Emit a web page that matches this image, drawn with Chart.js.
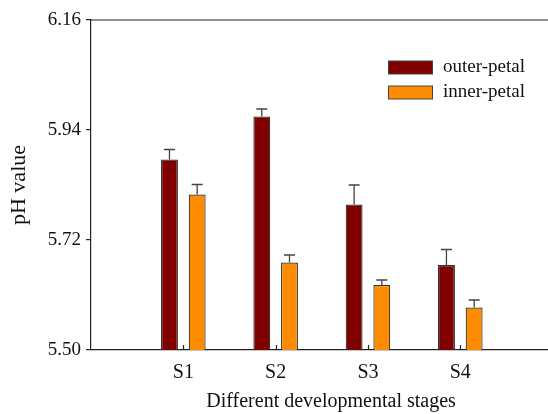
<!DOCTYPE html>
<html>
<head>
<meta charset="utf-8">
<script src="https://cdn.jsdelivr.net/npm/chart.js@4.4.1/dist/chart.umd.min.js"></script>
<style>
html,body{margin:0;padding:0;background:#fff;}
#wrap{width:548px;height:414px;position:relative;}
</style>
</head>
<body>
<div id="wrap"><canvas id="c" width="548" height="414"></canvas></div>
<script>
const categories = ['S1', 'S2', 'S3', 'S4'];
const categoryPositions = [1, 2, 3, 4];
const seriesNames = ['outer-petal', 'inner-petal'];
const outerValues = [5.881, 5.967, 5.791, 5.670];
const outerErrors = [0.020, 0.015, 0.039, 0.031];
const innerValues = [5.811, 5.675, 5.630, 5.585];
const innerErrors = [0.020, 0.015, 0.010, 0.015];
const yTickValues = [5.50, 5.72, 5.94, 6.16];
const xTitle = 'Different developmental stages';
const yTitle = 'pH value';

const FONT = 'Liberation Serif, Times New Roman, serif';
const colors = ['#800000', '#FF8C00'];
const errors = [outerErrors, innerErrors];

const errorBarPlugin = {
  id: 'errorBars',
  afterDatasetsDraw(chart) {
    const ctx = chart.ctx;
    const y = chart.scales.y;
    ctx.save();
    ctx.strokeStyle = '#444';
    ctx.lineWidth = 1.3;
    chart.data.datasets.forEach((ds, di) => {
      const meta = chart.getDatasetMeta(di);
      meta.data.forEach((bar, i) => {
        const top = y.getPixelForValue(ds.data[i].y);
        const cap = y.getPixelForValue(ds.data[i].y + errors[di][i]);
        ctx.beginPath();
        ctx.moveTo(bar.x, top);
        ctx.lineTo(bar.x, cap);
        ctx.moveTo(bar.x - 5.5, cap);
        ctx.lineTo(bar.x + 5.5, cap);
        ctx.stroke();
      });
    });
    ctx.restore();
  }
};

const framePlugin = {
  id: 'frame',
  afterDraw(chart) {
    const ctx = chart.ctx;
    const a = chart.chartArea;
    const x = chart.scales.x;
    ctx.save();
    ctx.strokeStyle = '#222';
    ctx.lineWidth = 1.2;
    ctx.beginPath();
    ctx.moveTo(a.left, a.top);
    ctx.lineTo(a.right, a.top);
    categoryPositions.forEach(p => {
      const px = Math.round(x.getPixelForValue(p)) + 0.5;
      ctx.moveTo(px, a.bottom);
      ctx.lineTo(px, a.bottom - 5);
    });
    ctx.stroke();
    // x axis title (centred on the full, partly cropped, plot width)
    ctx.fillStyle = '#111';
    ctx.font = '20px ' + FONT;
    ctx.textAlign = 'center';
    ctx.textBaseline = 'alphabetic';
    ctx.fillText(xTitle, x.getPixelForValue(2.6), 407);
    // legend
    ctx.font = '19px ' + FONT;
    ctx.textBaseline = 'middle';
    ctx.textAlign = 'left';
    chart.data.datasets.forEach((ds, i) => {
      const bx = 388.5, by = 61 + i * 25;
      ctx.fillStyle = ds.backgroundColor;
      ctx.fillRect(bx, by, 44, 13);
      ctx.strokeStyle = '#444';
      ctx.lineWidth = 1;
      ctx.strokeRect(bx, by, 44, 13);
      ctx.fillStyle = '#111';
      ctx.fillText(ds.label, 443, by + 6.5);
    });
    ctx.restore();
  }
};

const datasets = [outerValues, innerValues].map((vals, di) => ({
  label: seriesNames[di],
  data: vals.map((v, i) => ({ x: categoryPositions[i], y: v })),
  backgroundColor: colors[di],
  borderColor: '#333',
  borderWidth: 1.2,
  borderSkipped: 'bottom',
  categoryPercentage: 0.6,
  barPercentage: 0.61
}));

new Chart(document.getElementById('c'), {
  type: 'bar',
  data: { datasets },
  options: {
    responsive: false,
    animation: false,
    layout: { padding: { top: 20, right: 0, left: 0, bottom: 0 } },
    plugins: { legend: { display: false }, tooltip: { enabled: false } },
    scales: {
      x: {
        type: 'linear',
        min: 0,
        max: 4.95,
        offset: false,
        grid: { display: false, offset: false, drawTicks: false },
        border: { display: true, color: '#222', width: 1.2 },
        afterBuildTicks: s => { s.ticks = categoryPositions.map(v => ({ value: v })); },
        afterFit: s => { s.height = 64; },
        ticks: {
          autoSkip: false,
          maxRotation: 0,
          padding: 11,
          color: '#111',
          font: { family: FONT, size: 20 },
          callback: v => categories[categoryPositions.indexOf(v)] || ''
        },
        title: { display: false }
      },
      y: {
        min: 5.50,
        max: 6.16,
        grid: { display: true, drawOnChartArea: false, drawTicks: true, tickLength: 5, color: '#222', lineWidth: 1.2 },
        border: { display: true, color: '#222', width: 1.2 },
        afterBuildTicks: s => { s.ticks = yTickValues.map(v => ({ value: v })); },
        afterFit: s => { s.width = 91; },
        ticks: {
          padding: 5,
          color: '#111',
          font: { family: FONT, size: 19 },
          callback: v => Number(v).toFixed(2)
        },
        title: {
          display: true,
          text: yTitle,
          color: '#111',
          font: { family: FONT, size: 22 },
          padding: { top: 6, bottom: 0 }
        }
      }
    }
  },
  plugins: [errorBarPlugin, framePlugin]
});
</script>
</body>
</html>
